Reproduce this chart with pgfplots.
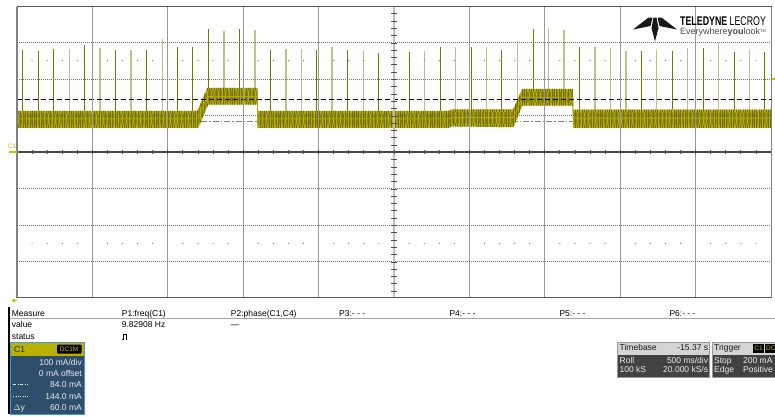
\documentclass[border=0pt]{standalone}
\usepackage{fontspec}
\setmainfont{Liberation Sans}
\usepackage{graphicx}
\usepackage{pgfplots}
\pgfplotsset{compat=1.18}
\usepackage{pgfplotstable}
\usetikzlibrary{patterns.meta}

\definecolor{trOuter}{HTML}{B4AC16}
\definecolor{trInner}{HTML}{8E8800}
\definecolor{trStreak}{HTML}{767000}
\definecolor{trCore}{HTML}{B0A810}
\definecolor{spD}{HTML}{7C7600}
\definecolor{spL}{HTML}{C4BE88}
\definecolor{scY}{HTML}{C8C000}
\definecolor{cBlue}{HTML}{2F4E6C}
\definecolor{cBorder}{HTML}{3D9BE0}
\definecolor{cHead}{HTML}{B9B100}
\definecolor{cText}{HTML}{E6EBF0}
\definecolor{tbHead}{HTML}{D4D4D4}
\definecolor{tbBody}{HTML}{424242}

% noise band envelope of channel C1 (time s, current mA)
\pgfplotstableread{
t I
0 113
1.196 113
1.262 176
1.594 176
1.596 113
2.86 113
2.89 117
3.290 117
3.350 173
3.686 173
3.688 116
5 116
5 66
3.688 66
3.686 127
3.352 127
3.292 68
2.89 70
2.86 66
1.596 66
1.594 130
1.268 130
1.202 66
0 66
}\bandOuter

\pgfplotstableread{
t I
0 105
1.196 105
1.262 168
1.594 168
1.596 105
2.86 105
2.89 109
3.290 109
3.350 165
3.686 165
3.688 108
5 108
5 75
3.688 75
3.686 136
3.352 136
3.292 77
2.89 79
2.86 75
1.596 75
1.594 138
1.268 138
1.202 75
0 75
}\bandInner

\pgfplotstableread{
t I
0 91
1.196 91
1.264 152
1.594 152
1.596 91
2.86 91
2.89 94
3.290 94
3.352 150
3.686 150
3.688 93
5 93
}\bandCore

% current spikes (dark traces)
\pgfplotstableread{
t I
0.038 100
0.038 279
0.038 nan
0.141 100
0.141 277
0.141 nan
0.241 100
0.241 282
0.241 nan
0.446 100
0.446 293
0.446 nan
0.652 100
0.652 279
0.652 nan
0.860 100
0.860 279
0.860 nan
1.063 100
1.063 288
1.063 nan
1.165 100
1.165 288
1.165 nan
1.269 160
1.269 337
1.269 nan
1.474 160
1.474 337
1.474 nan
1.682 100
1.682 279
1.682 nan
1.987 100
1.987 279
1.987 nan
2.193 100
2.193 279
2.193 nan
2.399 100
2.399 272
2.399 nan
2.500 100
2.500 271
2.500 nan
2.601 100
2.601 275
2.601 nan
2.807 100
2.807 288
2.807 nan
3.011 100
3.011 288
3.011 nan
3.216 100
3.216 279
3.216 nan
3.423 160
3.423 337
3.423 nan
3.731 100
3.731 288
3.731 nan
4.140 100
4.140 278
4.140 nan
4.345 100
4.345 278
4.345 nan
4.549 100
4.549 284
4.549 nan
4.755 100
4.755 275
4.755 nan
4.960 100
4.960 275
4.960 nan
}\spikesD

% current spikes (faded traces)
\pgfplotstableread{
t I
0.347 100
0.347 283
0.347 nan
0.550 100
0.550 285
0.550 nan
0.756 100
0.756 279
0.756 nan
0.964 100
0.964 310
0.964 nan
1.373 160
1.373 332
1.373 nan
1.578 160
1.578 333
1.578 nan
1.784 100
1.784 282
1.784 nan
1.885 100
1.885 282
1.885 nan
2.089 100
2.089 288
2.089 nan
2.296 100
2.296 279
2.296 nan
2.704 100
2.704 277
2.704 nan
2.909 100
2.909 288
2.909 nan
3.115 100
3.115 288
3.115 nan
3.318 120
3.318 304
3.318 nan
3.525 160
3.525 340
3.525 nan
3.627 160
3.627 334
3.627 nan
3.833 100
3.833 288
3.833 nan
3.934 100
3.934 284
3.934 nan
4.038 100
4.038 278
4.038 nan
4.242 100
4.242 279
4.242 nan
4.448 100
4.448 284
4.448 nan
4.653 100
4.653 298
4.653 nan
4.856 100
4.856 279
4.856 nan
}\spikesL

\begin{document}
\begin{tikzpicture}
\fill[white] (0pt,0pt) rectangle (775pt,-416pt);
\useasboundingbox (0pt,0pt) rectangle (775pt,-416pt);

\begin{axis}[at={(17pt,-298pt)}, anchor=south west, scale only axis,
  width=754pt, height=292pt, xmin=0, xmax=5, ymin=-400, ymax=400,
  hide axis, unbounded coords=jump]
  % cursor 1 (84 mA)
  \addplot[color=gray, line width=1.1pt, dash pattern=on 6pt off 2pt on 1.5pt off 2pt] coordinates {(0,84) (5,84)};
  \addplot[spL, line width=1.2pt] table {\spikesL};
  \addplot[spD, line width=1pt] table {\spikesD};
  \addplot[fill=trOuter, draw=none] table {\bandOuter};
  \addplot[fill=trInner, draw=none] table {\bandInner};
  \addplot[draw=none, pattern={Lines[angle=90, distance=2.3pt, line width=0.7pt]}, pattern color=trStreak] table {\bandOuter};
  \addplot[draw=none, pattern={Lines[angle=90, distance=3.7pt, line width=0.6pt]}, pattern color=trOuter] table {\bandInner};
  \addplot[trCore, line width=0.9pt] table {\bandCore};
  % cursor 2 (144 mA)
  \addplot[black, line width=1.6pt, dash pattern=on 5pt off 3pt] coordinates {(0,144) (5,144)};
\end{axis}

\begin{scope}[x=1pt, y=-1pt]
  % graticule
  \foreach \k in {1,2,3,4,6,7,8,9} {
    \draw[color=gray!80, line width=1.2pt] ({17+\k*75.4},6.5) -- ({17+\k*75.4},297.5);
  }
  \foreach \yy in {42.5,79,115.5,188.5,225,261.5} {
    \draw[color=black!55, line width=0.9pt, dash pattern=on 1pt off 1pt] (17,\yy) -- (771.5,\yy);
  }
  \foreach \k in {1,...,49} {
    \pgfmathtruncatemacro\m{mod(\k,5)}
    \ifnum\m=0\relax\else
      \fill[black!60] ({17+\k*15.08},60.7) circle (0.6);
      \fill[black!60] ({17+\k*15.08},243.3) circle (0.6);
    \fi
  }
  \draw[color=gray!50, line width=2.4pt] (394,6.5) -- (394,297.5);
  \foreach \k in {1,...,39} {
    \draw[black!70, line width=1pt] (391.3,{6.5+\k*7.3}) -- (396.7,{6.5+\k*7.3});
  }
  \draw[black!72, line width=1.5pt] (17,152) -- (771.5,152);
  \foreach \k in {1,...,49} {
    \draw[black!70, line width=0.8pt] ({17+\k*15.08},150) -- ({17+\k*15.08},154);
  }
  \draw[black!65, line width=1.8pt] (16.5,6.5) -- (772,6.5);
  \draw[black!65, line width=1.8pt] (16.5,297.5) -- (772,297.5);
  \draw[gray, line width=1.3pt] (17,6.5) -- (17,297.5);
  \draw[gray, line width=1pt] (771.5,6.5) -- (771.5,297.5);

  % channel markers
  \draw[scY, line width=1.6pt] (9,152) -- (17,152);
  \node[scY, anchor=base west, inner sep=0, font={\fontsize{6.5}{7}\selectfont}] at (8,148.3) {C1};
  \draw[scY, line width=1.4pt] (772,79) -- (775,79);
  \draw[scY, line width=0.8pt] (17,300.5) -- (13,300.5);
  \fill[scY] (11.5,300.5) -- (14.5,298.3) -- (14.5,302.7) -- cycle;

  % logo
  \fill[black!90] (633,29.5) -- (648.5,17.5) -- (652.5,17.5) -- (650.5,26) -- cycle;
  \fill[black!90] (677,29.5) -- (661.5,17.5) -- (657.5,17.5) -- (659.5,26) -- cycle;
  \fill[black!90] (653.5,17.5) -- (656.5,17.5) -- (658.5,28) -- (655,41.5) -- (651.5,28) -- cycle;
  \node[anchor=base west, inner sep=0] at (680,25.7) {\scalebox{0.7}[1]{\fontsize{12.6}{13}\selectfont\textbf{TELEDYNE} LECROY}};
  \node[anchor=base west, inner sep=0, black!70] at (680,34.3) {\fontsize{9}{10}\selectfont Everywhere\textbf{you}look\raisebox{2pt}{\fontsize{4}{4}\selectfont TM}};

  % measure table
  \tikzset{mt/.style={anchor=base west, inner sep=0, font={\fontsize{8.5}{10}\selectfont}}}
  \draw[black!35, line width=0.8pt] (10,318.8) -- (775,318.8);
  \fill[black] (7.5,306.5) rectangle (10,414.3);
  \node[mt] at (11.7,316) {Measure};
  \node[mt] at (121.7,316) {P1:freq(C1)};
  \node[mt] at (230.7,316) {P2:phase(C1,C4)};
  \node[mt] at (339,316) {P3:- - -};
  \node[mt] at (449.3,316) {P4:- - -};
  \node[mt] at (559.3,316) {P5:- - -};
  \node[mt] at (669.3,316) {P6:- - -};
  \node[mt] at (11.7,327.8) {value};
  \node[mt] at (121.7,327.8) {9.82908 Hz};
  \node[mt] at (230.7,327.8) {---};
  \node[mt] at (11.7,339.3) {status};
  \draw[black, line width=0.6pt] (121.5,339) -- (122.8,339) -- (122.8,334.3) -- (126,334.3) -- (126,339) -- (127.3,339);

  % C1 channel box
  \fill[cBlue] (10,342.5) rectangle (84.5,414);
  \fill[cHead] (10,342.5) rectangle (84.5,355.5);
  \draw[cBorder, line width=1pt] (10,342.5) rectangle (84.5,414);
  \node[mt, black!85] at (14,352.3) {C1};
  \fill[black, rounded corners=1pt] (57,344.5) rectangle (81.5,353.5);
  \node[scY, inner sep=0, font={\fontsize{6.5}{7}\selectfont}] at (69.2,349) {DC1M};
  \tikzset{cr/.style={anchor=base east, inner sep=0, cText, font={\fontsize{8.5}{10}\selectfont}}}
  \node[cr] at (82,365) {100 mA/div};
  \node[cr] at (82,376) {0 mA offset};
  \node[cr] at (82,387.3) {84.0 mA};
  \node[cr] at (82,399) {144.0 mA};
  \node[cr] at (82,410.3) {60.0 mA};
  \node[mt, cText] at (13.3,410.3) {$\Delta$y};
  \draw[cText, line width=0.7pt, dash pattern=on 3pt off 1.5pt on 0.8pt off 1.5pt] (13.3,384.5) -- (28.3,384.5);
  \draw[cText, line width=0.7pt, dash pattern=on 1pt off 1.3pt] (13.3,396.5) -- (28.3,396.5);

  % timebase box
  \fill[tbBody] (617.5,342) rectangle (709.5,377);
  \fill[tbHead] (617.5,342) rectangle (709.5,354.5);
  \draw[black!40, line width=0.5pt] (617.5,342) rectangle (709.5,377);
  \node[mt, black!90] at (619.5,350.8) {Timebase};
  \node[anchor=base east, inner sep=0, black!90, font={\fontsize{8.5}{10}\selectfont}] at (708.3,350.8) {-15.37 s};
  \node[mt, white!92!black] at (619.5,363.3) {Roll};
  \node[anchor=base east, inner sep=0, white!92!black, font={\fontsize{8.5}{10}\selectfont}] at (708.3,363.3) {500 ms/div};
  \node[mt, white!92!black] at (619.5,372.7) {100 kS};
  \node[anchor=base east, inner sep=0, white!92!black, font={\fontsize{8.5}{10}\selectfont}] at (708.3,372.7) {20.000 kS/s};

  % trigger box
  \fill[tbBody] (712,342) rectangle (790,377);
  \fill[tbHead] (712,342) rectangle (790,354.5);
  \draw[black!40, line width=0.5pt] (712,342) rectangle (790,377);
  \node[mt, black!90] at (714,350.8) {Trigger};
  \fill[black] (753,343.5) rectangle (764,353.3);
  \fill[black] (765,343.5) rectangle (780,353.3);
  \node[scY, inner sep=0, font={\fontsize{6.5}{7}\selectfont}] at (758.5,348.5) {C1};
  \node[scY, anchor=west, inner sep=0, font={\fontsize{6.5}{7}\selectfont}] at (766,348.5) {DC};
  \node[mt, white!92!black] at (714,363.3) {Stop};
  \node[mt, white!92!black] at (743,363.3) {200 mA};
  \node[mt, white!92!black] at (714,372.7) {Edge};
  \node[mt, white!92!black] at (743,372.7) {Positive};
\end{scope}
\end{tikzpicture}
\end{document}
